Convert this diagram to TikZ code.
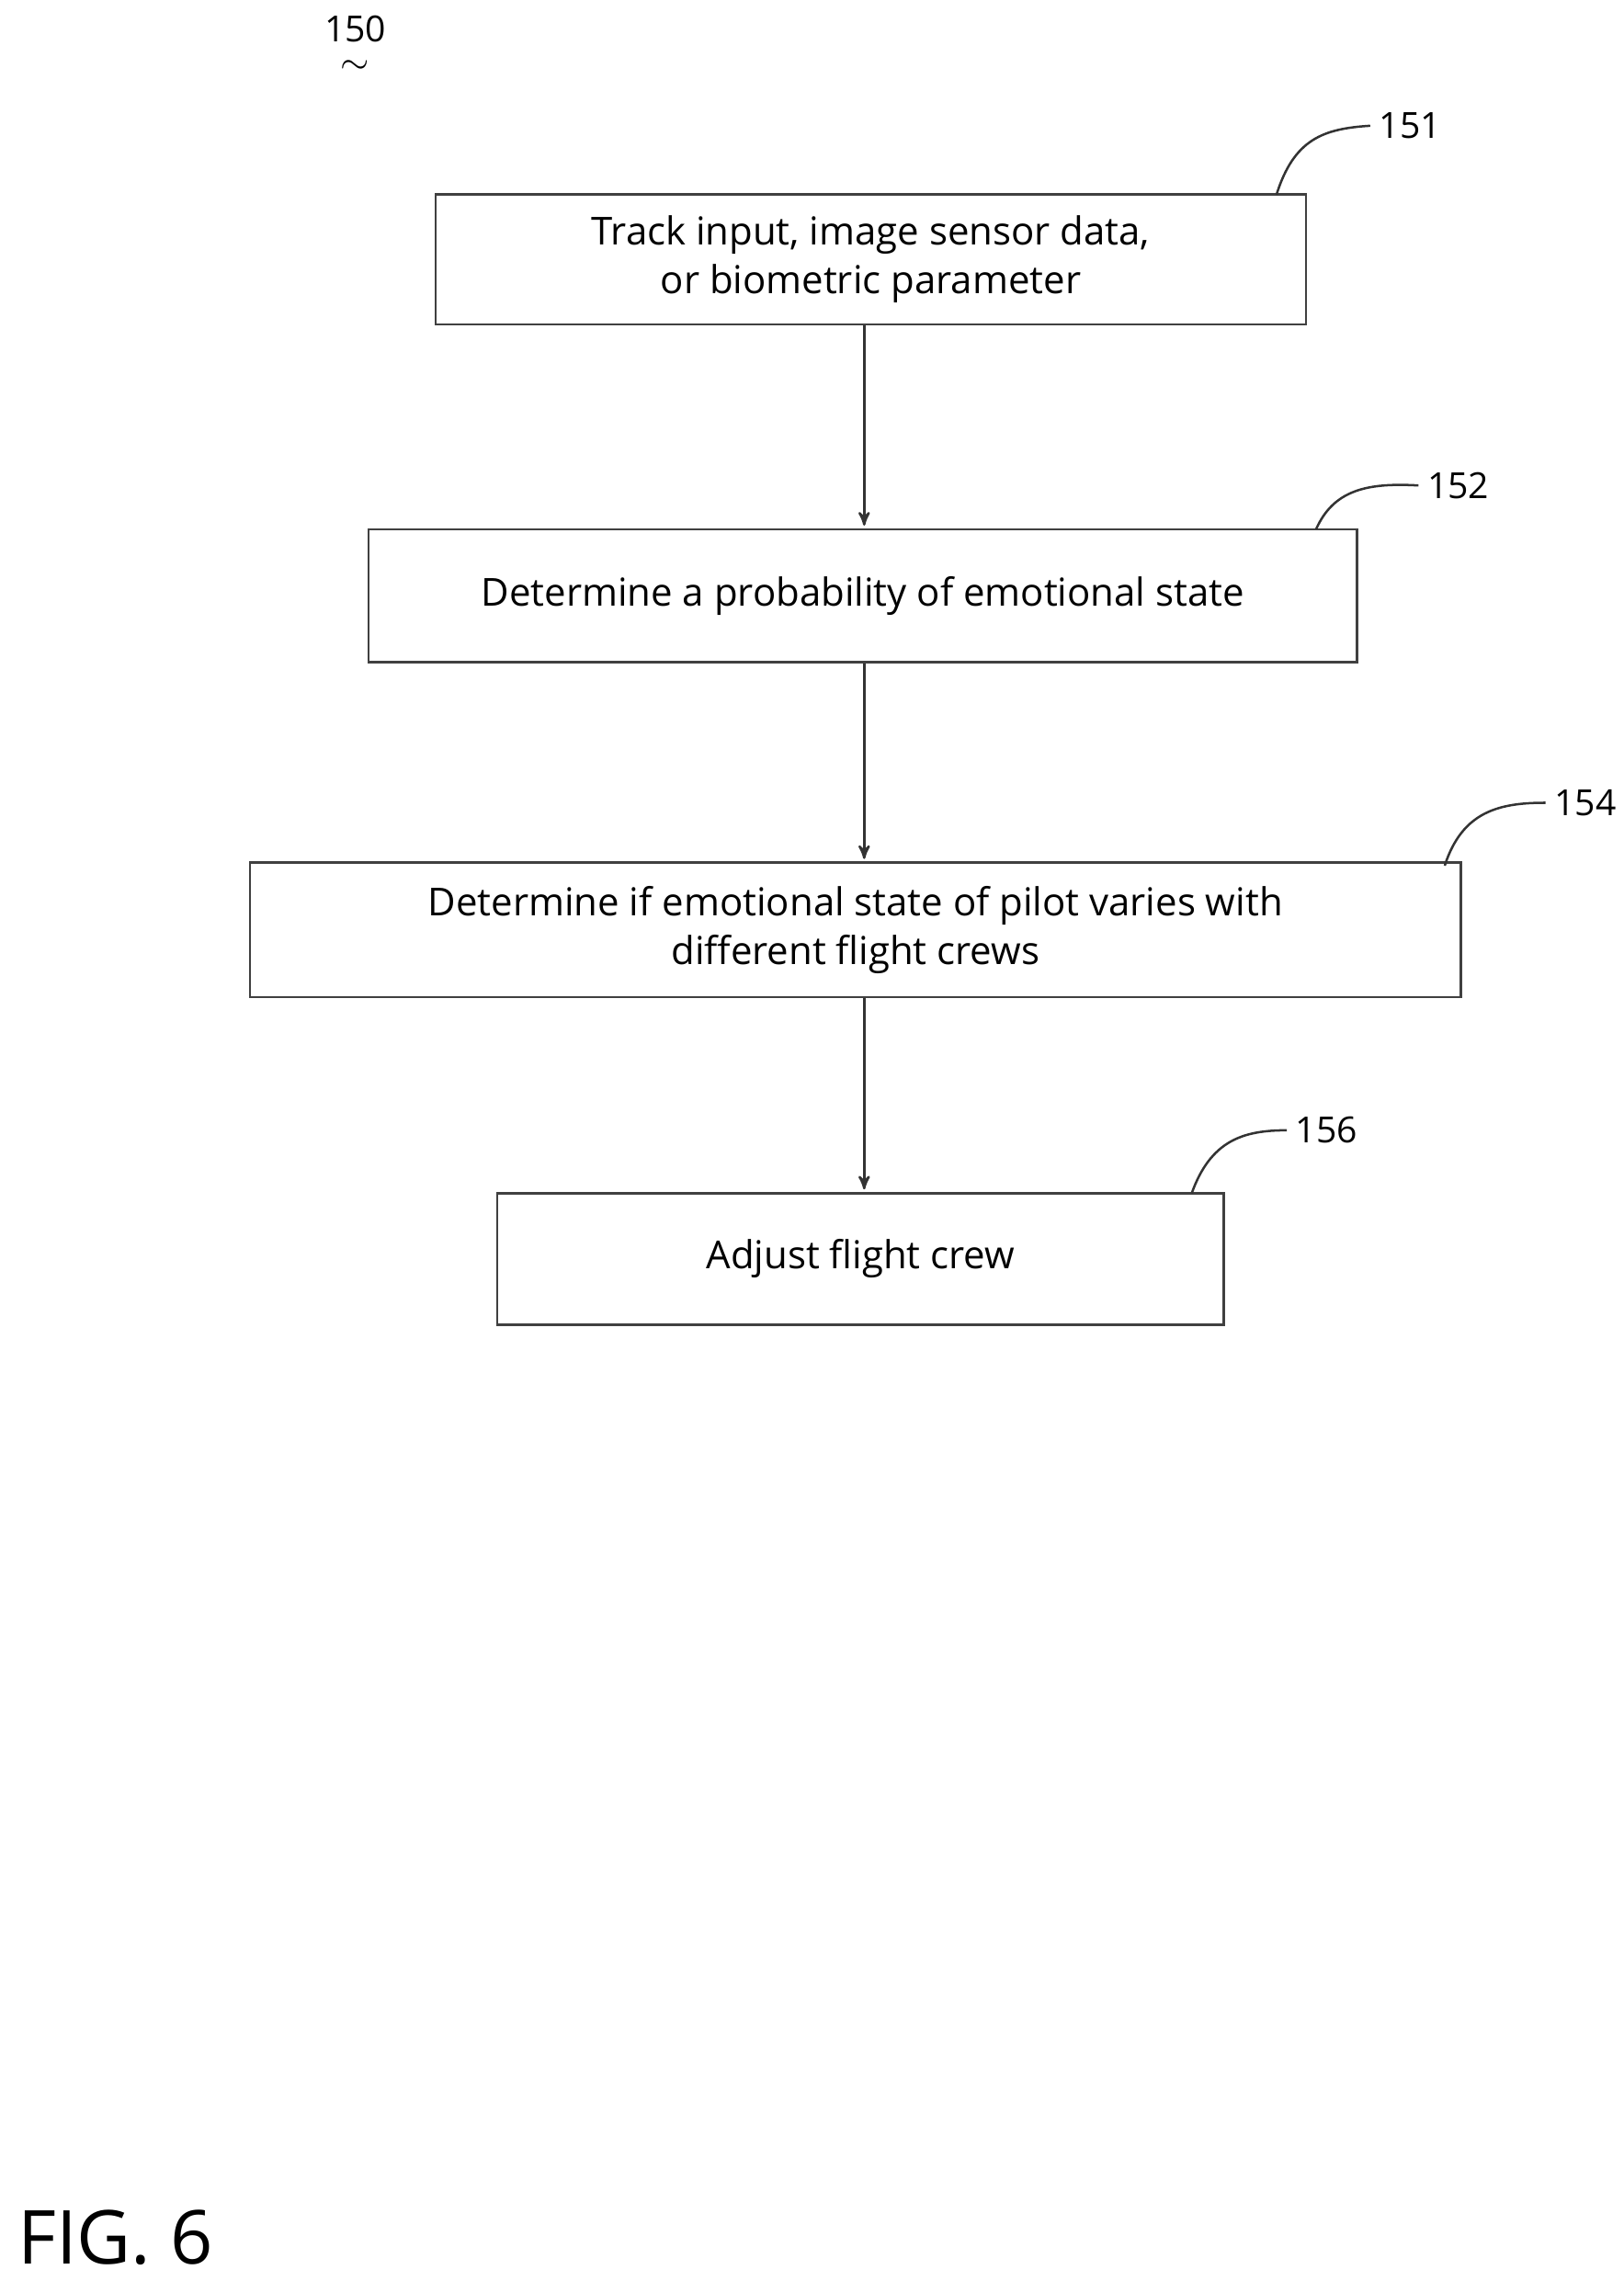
\documentclass[tikz,border=0pt]{standalone}
\usepackage{fontspec}
\setmainfont{Open Sans}
\usetikzlibrary{arrows,calc}

\begin{document}
\begin{tikzpicture}[x=0.02cm, y=-0.02cm,
  flowbox/.style = {draw=black!75, line width=0.9pt, inner sep=0pt, align=center,
                 font=\fontsize{15}{19}\selectfont},
  flow/.style = {->, >=stealth', draw=black!80, line width=0.9pt, shorten >=1pt},
  lead/.style = {draw=black!80, line width=0.9pt},
  tag/.style  = {font=\fontsize{14}{16}\selectfont}]

\useasboundingbox (0,0) rectangle (1110,1560);

\node[flowbox, minimum width=595*0.02cm, minimum height=89*0.02cm] (S151) at (595.5,177.5)
  {Track input, image sensor data,\\ or biometric parameter};
\node[flowbox, minimum width=676*0.02cm, minimum height=91*0.02cm] (S152) at (590,407.5)
  {Determine a probability of emotional state};
\node[flowbox, minimum width=828*0.02cm, minimum height=92*0.02cm] (S154) at (585,636)
  {Determine if emotional state of pilot varies with\\ different flight crews};
\node[flowbox, minimum width=497*0.02cm, minimum height=90*0.02cm] (S156) at (588.5,861)
  {Adjust flight crew};

\draw[flow] (S151.south -| 591,0) -- (S152.north -| 591,0);
\draw[flow] (S152.south -| 591,0) -- (S154.north -| 591,0);
\draw[flow] (S154.south -| 591,0) -- (S156.north -| 591,0);

% reference numerals
\node[tag] (L150) at (243,20) {150};
\node[tag, inner sep=0pt] at (243,46) {$\sim$};
\node[tag, anchor=west] (L151) at (937,86) {151};
\node[tag, anchor=west] (L152) at (970,332) {152};
\node[tag, anchor=west] (L154) at (1057,549) {154};
\node[tag, anchor=west] (L156) at (880,773) {156};

\draw[lead] (873,133) .. controls (885,95) and (905,88) .. (L151.west);
\draw[lead] (900,362) .. controls (912,335) and (935,330) .. (L152.west);
\draw[lead] (988,592) .. controls (1000,555) and (1025,549) .. (L154.west);
\draw[lead] (815,816) .. controls (828,780) and (850,773) .. (L156.west);

\node[font=\fontsize{29}{32}\selectfont, anchor=west] (FIG) at (6,1530) {FIG. 6};
\end{tikzpicture}
\end{document}
